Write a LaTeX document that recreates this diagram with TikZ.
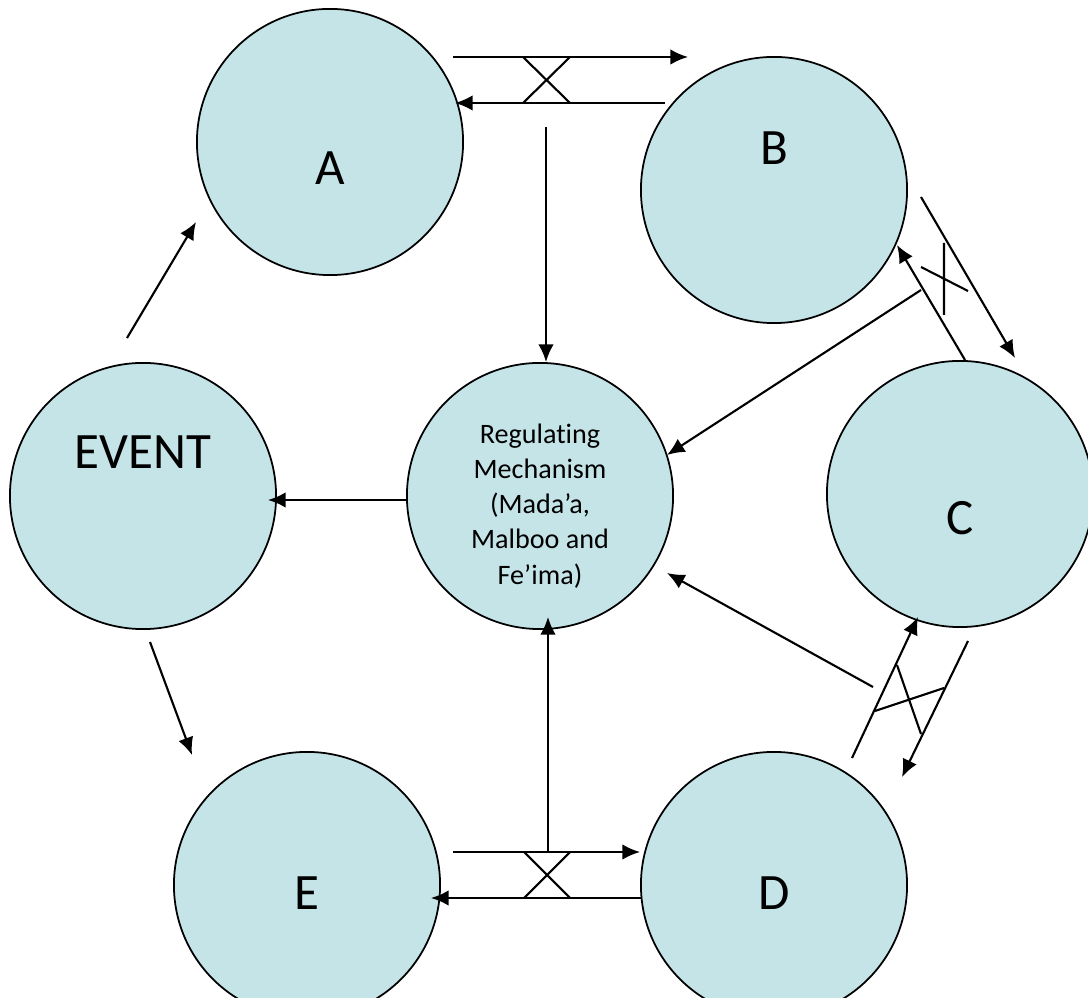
\documentclass[tikz,border=0pt]{standalone}
\usepackage{fontspec}
\setmainfont{Carlito}[Ligatures=NoCommon]
\usepackage{tikz}
\usetikzlibrary{arrows.meta}
\definecolor{blobfill}{RGB}{197,228,232}

\begin{document}
\begin{tikzpicture}[x=0.01cm,y=-0.01cm, line width=0.6pt,
    >={Latex[length=5pt,width=4.4pt]},
    blob/.style={circle, draw, line width=0.5pt, fill=blobfill, minimum size=2.66cm, inner sep=0pt},
    big/.style={font=\fontsize{14.5}{17}\selectfont, inner sep=0pt},
    small/.style={font=\fontsize{8}{10}\selectfont, align=center, inner sep=0pt}]
  \useasboundingbox (0,0) rectangle (1088,998);

  % Draw circles
  \node [blob] (A) at (330,142) {};
  \node [blob] (B) at (774,190) {};
  \node [blob] (C) at (960,494) {};
  \node [blob] (D) at (774,885) {};
  \node [blob] (E) at (307,885) {};
  \node [blob] (EV) at (143,496) {};
  \node [blob] (R) at (540,496) {};

  % Labels
  \node [big] (Alab) at (330,168) {A};
  \node [big] (Blab) at (774,148) {B};
  \node [big] (Clab) at (960,518) {C};
  \node [big] (Dlab) at (774,893) {D};
  \node [big] (Elab) at (307,893) {E};
  \node [big] (EVlab) at (143,452) {EVENT};
  \node [small] (Rlab) at (540,506) {Regulating\\Mechanism\\(Mada’a,\\Malboo and\\Fe’ima)};

  % Arrow ends
  \coordinate (ab1) at (453,57);  \coordinate (ab2) at (688,57);
  \coordinate (ba1) at (665,103); \coordinate (ba2) at (455,103);
  \coordinate (bc1) at (921,197); \coordinate (bc2) at (1015,358);
  \coordinate (cb1) at (965,360); \coordinate (cb2) at (897,245);
  \coordinate (cd1) at (968,641); \coordinate (cd2) at (902,777);
  \coordinate (dc1) at (852,758); \coordinate (dc2) at (918,617);
  \coordinate (ed1) at (453,852); \coordinate (ed2) at (640,852);
  \coordinate (de1) at (641,898); \coordinate (de2) at (431,898);
  \coordinate (ar1) at (546,127); \coordinate (ar2) at (546,362);
  \coordinate (br1) at (921,290); \coordinate (br2) at (667,455);
  \coordinate (cr1) at (873,687); \coordinate (cr2) at (667,573);
  \coordinate (dr1) at (548,852); \coordinate (dr2) at (548,617);
  \coordinate (re1) at (406,500); \coordinate (re2) at (268,500);
  \coordinate (ea1) at (127,338); \coordinate (ea2) at (196,222);
  \coordinate (ee1) at (150,642); \coordinate (ee2) at (192,755);

  % Draw arrows
  \draw [->] (ab1) -- (ab2);
  \draw [->] (ba1) -- (ba2);
  \draw [->] (bc1) -- (bc2);
  \draw [->] (cb1) -- (cb2);
  \draw [->] (cd1) -- (cd2);
  \draw [->] (dc1) -- (dc2);
  \draw [->] (ed1) -- (ed2);
  \draw [->] (de1) -- (de2);
  \draw [->] (ar1) -- (ar2);
  \draw [->] (br1) -- (br2);
  \draw [->] (cr1) -- (cr2);
  \draw [->] (dr1) -- (dr2);
  \draw [->] (re1) -- (re2);
  \draw [->] (ea1) -- (ea2);
  \draw [->] (ee1) -- (ee2);

  % Draw crosses
  \draw (523,57) -- (570,103) (570,57) -- (523,103);
  \draw (944,243) -- (944,315) (921,267) -- (968,291);
  \draw (875,711) -- (944,688) (897,665) -- (921,734);
  \draw (524,852) -- (570,898) (570,852) -- (524,898);
\end{tikzpicture}
\end{document}
